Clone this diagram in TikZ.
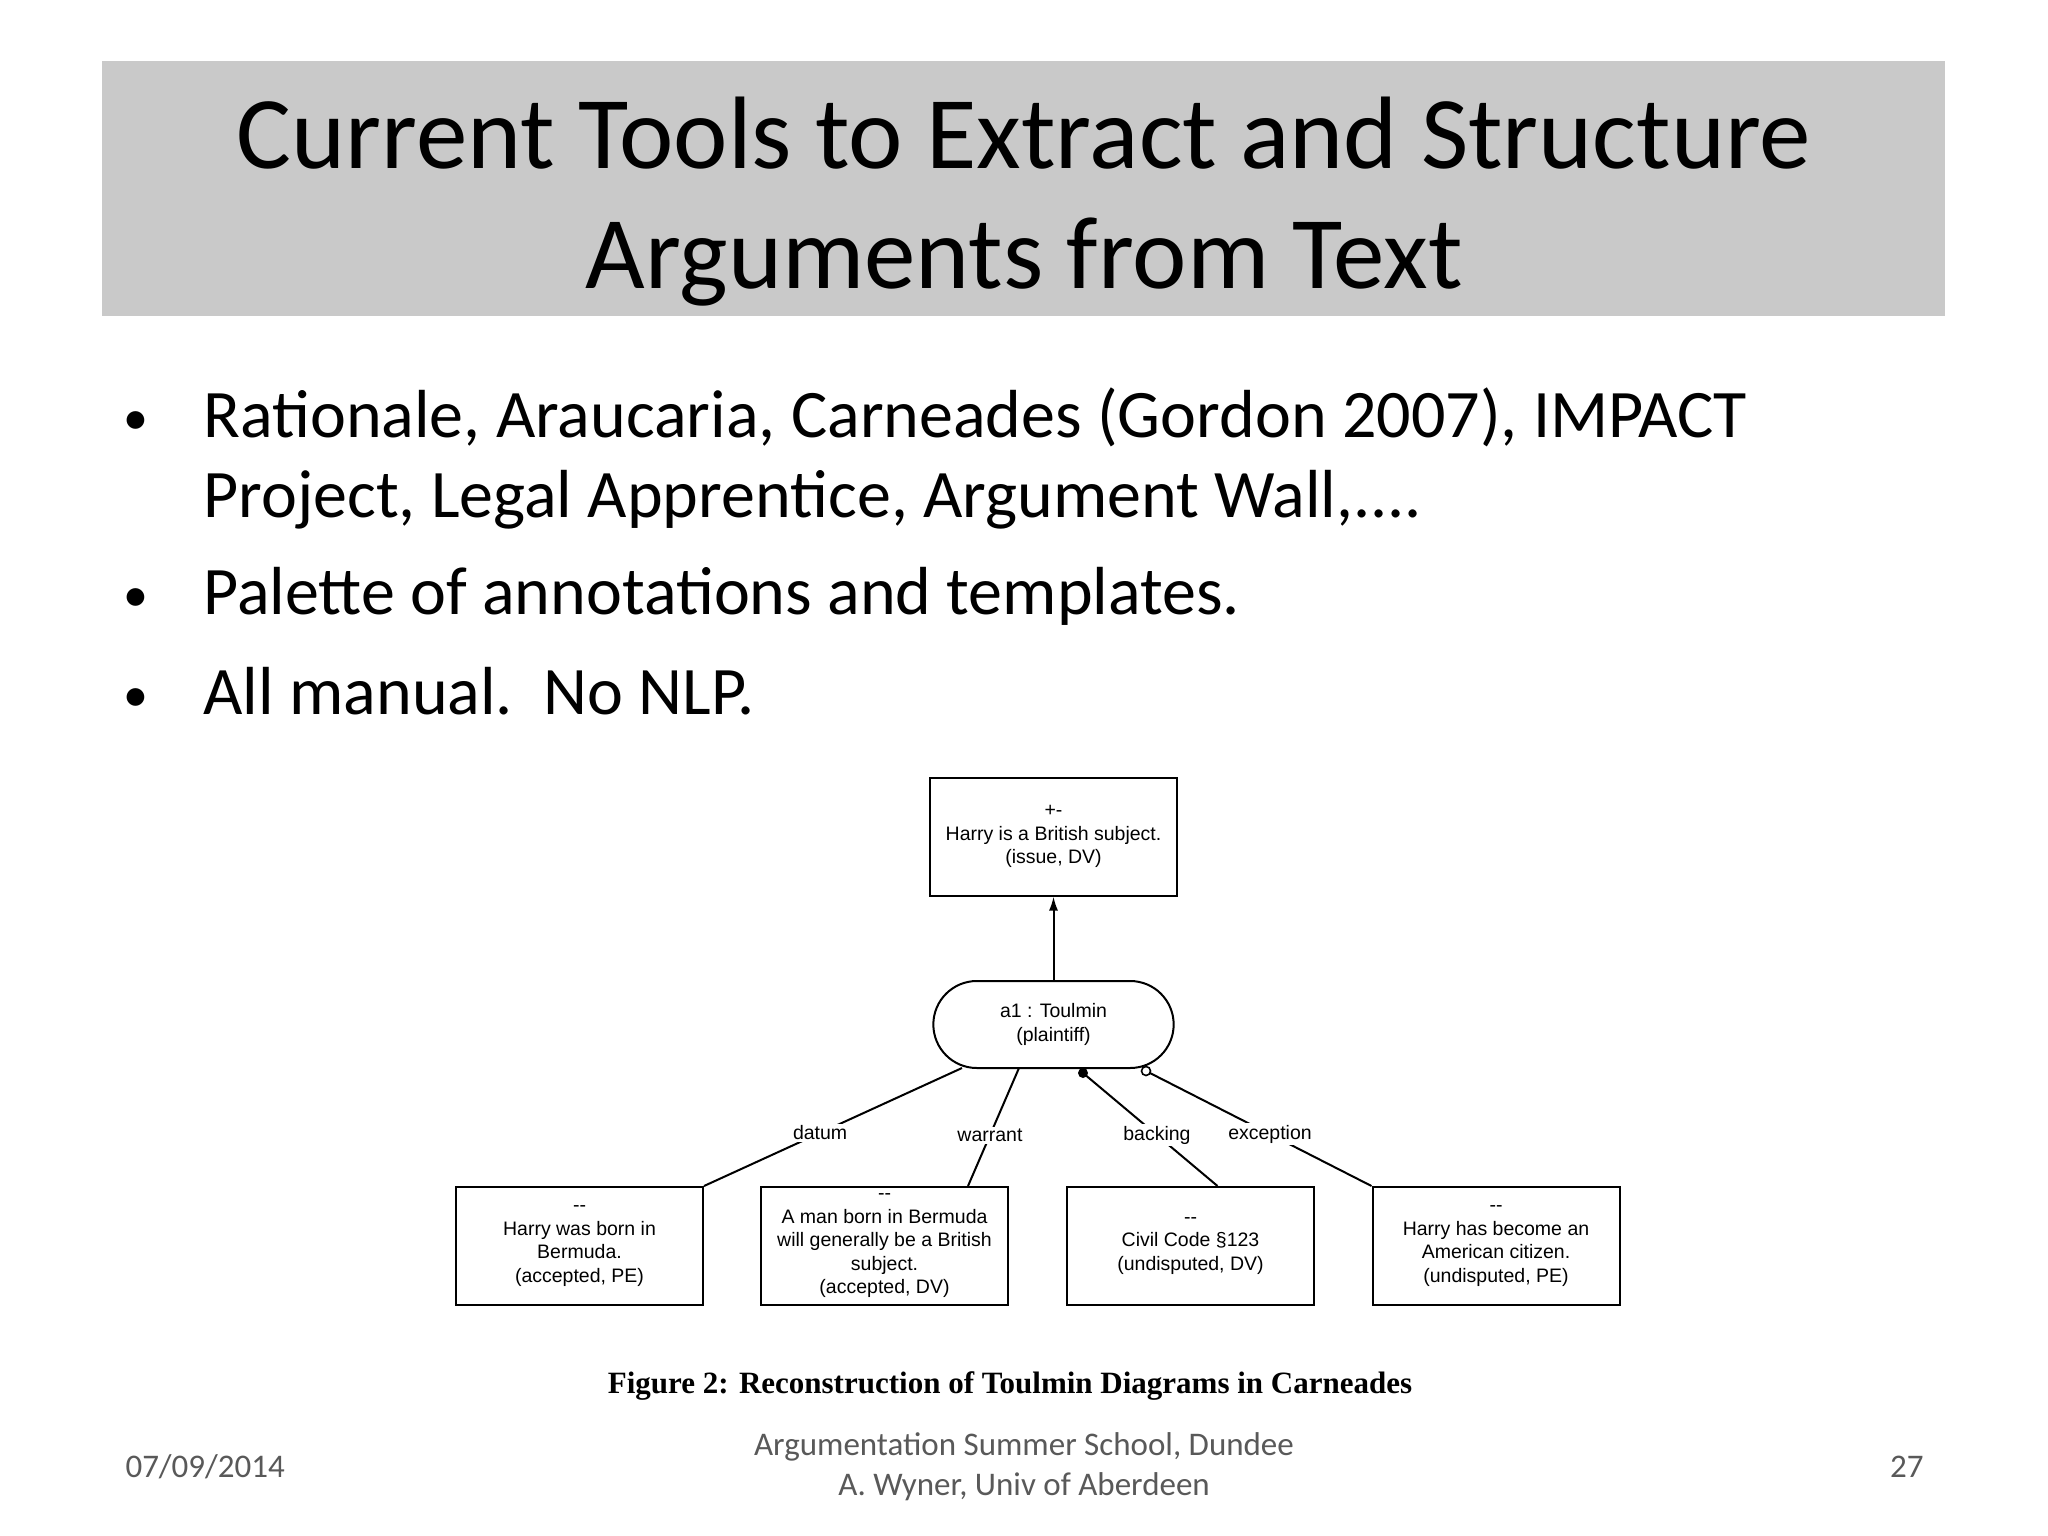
\documentclass[tikz,border=0pt]{standalone}
\usepackage{fontspec}
\setmainfont{Carlito}
\newfontfamily\dfont{Liberation Sans}
\newfontfamily\cfont{Liberation Serif}
\usetikzlibrary{arrows.meta,shapes.misc}
\begin{document}
\begin{tikzpicture}[x=1pt,y=-1pt,
  bul/.style={anchor=base west,font=\fontsize{68}{80}\selectfont},
  sbox/.style={draw,line width=2pt,minimum width=247pt,minimum height=118pt,align=center,font=\dfont\fontsize{19.5}{23.5}\selectfont,inner sep=1pt},
  elab/.style={fill=white,font=\dfont\fontsize{19.5}{22}\selectfont,inner sep=2pt},
  conn/.style={line width=2pt},
  foot/.style={font=\fontsize{33}{40}\selectfont,text=black!65}]
\useasboundingbox (0,0) rectangle (2048,1536);
\fill[white] (0,0) rectangle (2048,1536);
\fill[black!21] (102,61) rectangle (1945,316);
\node[anchor=base,font=\fontsize{103}{120}\selectfont] (t1) at (1024,168) {Current Tools to Extract and Structure};
\node[anchor=base,font=\fontsize{103}{120}\selectfont] (t2) at (1024,288) {Arguments from Text};
\node[bul,font=\fontsize{50}{60}\selectfont] (b1) at (120,434) {•};
\node[bul] (l1) at (200,437) {Rationale, Araucaria, Carneades (Gordon 2007), IMPACT};
\node[bul] (l1b) at (200,517) {Project, Legal Apprentice, Argument Wall,....};
\node[bul,font=\fontsize{50}{60}\selectfont] (b2) at (120,611) {•};
\node[bul] (l2) at (200,614) {Palette of annotations and templates.};
\node[bul,font=\fontsize{50}{60}\selectfont] (b3) at (120,711) {•};
\node[bul] (l3) at (200,714) {All manual.\ \ No NLP.};
% diagram
\node[sbox] (top) at (1053.5,836.5) {+-\\Harry is a British subject.\\(issue, DV)};
\node[draw,line width=2pt,rounded rectangle,minimum width=247pt,minimum height=87pt,align=center,font=\dfont\fontsize{19.5}{23.5}\selectfont] (tou) at (1053.5,1024.5) {a1 : Toulmin\\(plaintiff)};
\node[sbox] (d) at (579.5,1246) {--\\Harry was born in\\Bermuda.\\(accepted, PE)};
\node[sbox] (w) at (884.5,1246) {--\\A man born in Bermuda\\will generally be a British\\subject.\\(accepted, DV)};
\node[sbox] (b) at (1190.5,1246) {--\\Civil Code §123\\(undisputed, DV)};
\node[sbox] (e) at (1496,1246) {--\\Harry has become an\\American citizen.\\(undisputed, PE)};
\draw[conn,-{Latex[length=14pt,width=9pt]}] (tou.north) -- (top.south);
\coordinate (td) at (962,1068);
\coordinate (tw) at (1019,1068);
\coordinate (tb) at (1083,1073);
\coordinate (te) at (1146,1071);
\draw[conn] (td) -- node[elab,pos=0.55] {datum} (d.north east);
\draw[conn] (tw) -- node[elab,pos=0.57] {warrant} ([xshift=-41pt]w.north east);
\draw[conn] (tb) -- node[elab,pos=0.55] {backing} ([xshift=27pt]b.north);
\draw[conn] (te) -- node[elab,pos=0.55] {exception} (e.north west);
\fill (tb) circle (5pt);
\draw[line width=1.6pt,fill=white] (te) circle (4.5pt);
\node[font=\cfont\bfseries\fontsize{31}{36}\selectfont] (cap) at (1010,1386) {Figure 2: Reconstruction of Toulmin Diagrams in Carneades};
% footer
\node[foot,anchor=west] (date) at (122,1467) {07/09/2014};
\node[foot,align=center] (mid) at (1024,1467) {Argumentation Summer School, Dundee\\A. Wyner, Univ of Aberdeen};
\node[foot,anchor=east] (pg) at (1927,1467) {27};
\end{tikzpicture}
\end{document}
